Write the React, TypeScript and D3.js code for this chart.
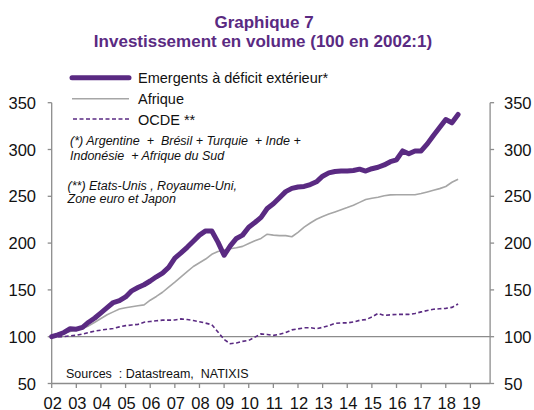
import React from "react";
import * as d3 from "d3";

// Quarterly data, 2002Q1 .. 2018Q3 (index 100 in 2002:1)
const startYear = 2002;
const emergents = [
  100, 102, 104.5, 108.5, 108, 110, 115.5, 120, 125.5, 131, 136.5, 138.5, 142.5, 149, 152.5, 155.5,
  159.5, 164, 168, 174, 184, 189.5, 195.5, 202, 208.5, 213, 213, 201, 187, 197, 205, 208.5,
  217, 222, 227.5, 237, 242, 248.5, 255, 258.5, 260, 260.5, 262.5, 265.5, 271.5, 275, 276.5, 277,
  277, 277.5, 279, 277, 279.5, 281, 283.5, 287, 289, 298.5, 295.5, 298.4, 298.5, 306, 315, 323.5,
  332, 328.5, 337.5,
];
const afrique = [
  100, 102, 104, 105.5, 107, 109, 111.5, 115.5, 119.5, 123.5, 126.5, 129.5, 131, 132, 133, 134,
  139, 143, 147.5, 153, 158.3, 164, 169.5, 175, 179, 183, 188, 191, 192.5, 194, 195, 196.5,
  199.5, 202.5, 205, 209.5, 208.5, 208, 208, 206.8, 211.5, 217, 221.5, 225.5, 228.5, 231, 233.3, 235.7,
  238, 240.5, 243.5, 246.5, 248, 249, 250.5, 251.5, 251.6, 251.6, 251.6, 251.6, 253, 254.7, 256.5, 258.2,
  260.5, 265, 268.3,
];
const ocde = [
  99.5, 99.8, 100.2, 101, 101.5, 102.8, 104.5, 106, 107, 108, 108.8, 110.5, 111.8, 112.5, 113.2, 115.5,
  116.2, 117, 117.7, 117.7, 117.8, 119, 118.3, 117.3, 116, 114.5, 112.8, 105, 97, 92.5, 93.3, 95,
  96, 99.5, 103, 102.4, 101.4, 102.6, 104.5, 107.3, 108.3, 109.5, 109.6, 108.6, 110, 111.8, 114.2, 114.8,
  114.8, 115.7, 117.5, 118.2, 121, 124.9, 122.8, 123.4, 123.8, 123.8, 123.8, 124.8, 126.5, 128, 129.4, 129.8,
  130.3, 131.3, 135,
];
const yTicks = [50, 100, 150, 200, 250, 300, 350];
const xTickYears = d3.range(2002, 2020);
const xTickLabels = xTickYears.map((y) => String(y % 100).padStart(2, "0"));

const titleLines = ["Graphique 7", "Investissement en volume (100 en 2002:1)"];
const legendLabels = ["Emergents à déficit extérieur*", "Afrique", "OCDE **"];
const noteLines1 = ["(*) Argentine  +  Brésil + Turquie  + Inde +", "Indonésie  + Afrique du Sud"];
const noteLines2 = ["(**) Etats-Unis , Royaume-Uni,", "Zone euro et Japon"];
const sourceText = "Sources  : Datastream,  NATIXIS";

const PURPLE = "#5a2a82";
const GREY = "#a6a6a6";
const AXIS = "#8c8c8c";
const FONT = "'Liberation Sans', Arial, Helvetica, sans-serif";

export default function App() {
  const W = 534;
  const H = 410;
  const x = d3.scaleLinear().domain([2002, 2019]).range([51.7, 470.4]);
  const xRight = x(2019.8);
  const xLeft = x(2002);
  const y = d3.scaleLinear().domain([50, 350]).range([383.5, 102.7]);

  const toPts = (arr: number[]) => arr.map((v, i) => [startYear + i * 0.25, v] as [number, number]);
  const line = d3
    .line<[number, number]>()
    .x((d) => x(d[0]))
    .y((d) => y(d[1]));

  return (
    <div style={{ position: "absolute", left: 0, top: 0 }}>
      <svg width={W} height={H} style={{ display: "block", background: "#fff" }} fontFamily={FONT}>
        {/* Title */}
        <text x={264} y={28} textAnchor="middle" fontSize={17} fontWeight="bold" fill={PURPLE}>
          {titleLines[0]}
        </text>
        <text x={263} y={46.5} textAnchor="middle" fontSize={17} fontWeight="bold" fill={PURPLE}>
          {titleLines[1]}
        </text>

        {/* 100 reference line */}
        <line x1={xLeft} x2={xRight} y1={y(100)} y2={y(100)} stroke={AXIS} strokeWidth={1.3} />

        {/* Left axis */}
        <line x1={xLeft} x2={xLeft} y1={y(350)} y2={y(50)} stroke={AXIS} strokeWidth={1.3} />
        {yTicks.map((t) => (
          <g key={"l" + t}>
            <line x1={xLeft - 4} x2={xLeft} y1={y(t)} y2={y(t)} stroke={AXIS} strokeWidth={1.3} />
            <text x={36} y={y(t) + 6} textAnchor="end" fontSize={16.5} fill="#111">
              {t}
            </text>
          </g>
        ))}
        {/* Right axis */}
        <line x1={xRight} x2={xRight} y1={y(350)} y2={y(50)} stroke={AXIS} strokeWidth={1.3} />
        {yTicks.map((t) => (
          <g key={"r" + t}>
            <line x1={xRight} x2={xRight + 4} y1={y(t)} y2={y(t)} stroke={AXIS} strokeWidth={1.3} />
            <text x={504} y={y(t) + 6} textAnchor="start" fontSize={16.5} fill="#111">
              {t}
            </text>
          </g>
        ))}
        {/* Bottom axis */}
        <line x1={xLeft} x2={xRight} y1={y(50)} y2={y(50)} stroke={AXIS} strokeWidth={1.3} />
        {xTickYears.map((yr, i) => (
          <g key={"x" + yr}>
            <line x1={x(yr)} x2={x(yr)} y1={y(50)} y2={y(50) + 4.5} stroke={AXIS} strokeWidth={1.3} />
            <text x={x(yr) + 1} y={408.5} textAnchor="middle" fontSize={16.5} fill="#111">
              {xTickLabels[i]}
            </text>
          </g>
        ))}

        {/* Series */}
        <path d={line(toPts(afrique)) || ""} fill="none" stroke={GREY} strokeWidth={1.6} strokeLinejoin="round" />
        <path
          d={line(toPts(ocde)) || ""}
          fill="none"
          stroke={PURPLE}
          strokeWidth={1.6}
          strokeDasharray="4 2.5"
        />
        <path
          d={line(toPts(emergents)) || ""}
          fill="none"
          stroke={PURPLE}
          strokeWidth={5}
          strokeLinejoin="round"
          strokeLinecap="round"
        />

        {/* Legend */}
        <line x1={72} x2={129} y1={77.7} y2={77.7} stroke={PURPLE} strokeWidth={5} strokeLinecap="round" />
        <text x={138} y={83} fontSize={14.5} fill="#111">
          {legendLabels[0]}
        </text>
        <line x1={72} x2={129} y1={98.8} y2={98.8} stroke={GREY} strokeWidth={1.6} />
        <text x={138} y={104} fontSize={14.5} fill="#111">
          {legendLabels[1]}
        </text>
        <line x1={73} x2={129} y1={119} y2={119} stroke={PURPLE} strokeWidth={1.6} strokeDasharray="4 2.5" />
        <text x={138} y={124.5} fontSize={14.5} fill="#111">
          {legendLabels[2]}
        </text>

        {/* Notes */}
        {noteLines1.map((s, i) => (
          <text key={"n1" + i} x={70} y={145 + i * 14.5} fontSize={12.5} fontStyle="italic" fill="#111" style={{ whiteSpace: "pre" }}>
            {s}
          </text>
        ))}
        {noteLines2.map((s, i) => (
          <text key={"n2" + i} x={67.5} y={189.5 + i * 13.5} fontSize={12.5} fontStyle="italic" fill="#111" style={{ whiteSpace: "pre" }}>
            {s}
          </text>
        ))}
        <text x={66} y={378} fontSize={12.5} fill="#111" style={{ whiteSpace: "pre" }}>
          {sourceText}
        </text>
      </svg>
    </div>
  );
}
